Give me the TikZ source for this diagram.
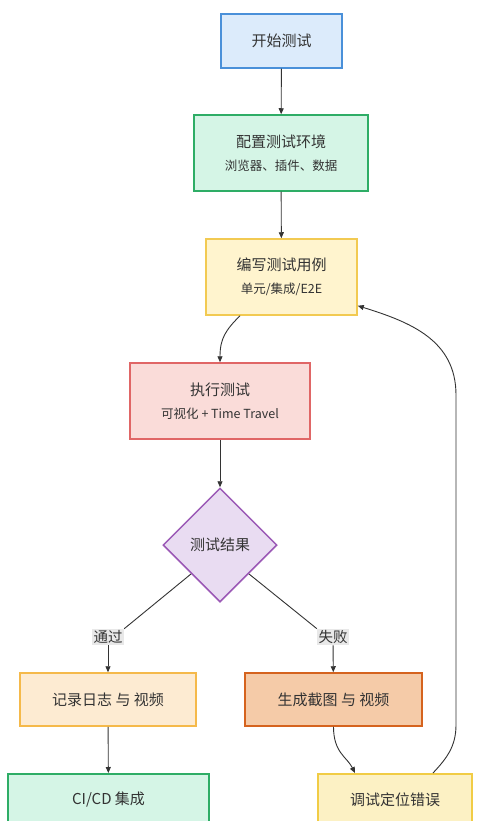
\documentclass[tikz,border=0pt]{standalone}
\usepackage{fontspec}
\setmainfont{Noto Sans CJK SC}
\usetikzlibrary{shapes.geometric,arrows.meta}

\definecolor{txtgray}{HTML}{333333}
\definecolor{linegray}{HTML}{333333}
\definecolor{blueFill}{HTML}{DCEBFB}
\definecolor{blueLine}{HTML}{4A90D9}
\definecolor{greenFill}{HTML}{D5F5E6}
\definecolor{greenLine}{HTML}{2EAD66}
\definecolor{yellowFill}{HTML}{FFF4CE}
\definecolor{yellowLine}{HTML}{F2CA52}
\definecolor{redFill}{HTML}{FADCD9}
\definecolor{redLine}{HTML}{E06666}
\definecolor{purpleFill}{HTML}{E9DCF2}
\definecolor{purpleLine}{HTML}{9B59B6}
\definecolor{orangeFill}{HTML}{FDEBD2}
\definecolor{orangeLine}{HTML}{F5B94A}
\definecolor{rustFill}{HTML}{F5CBA8}
\definecolor{rustLine}{HTML}{D5631E}
\definecolor{goldFill}{HTML}{FCF1C4}
\definecolor{goldLine}{HTML}{F1CC45}
\definecolor{labelGray}{HTML}{E8E8E8}

\newcommand{\subtxt}[1]{{\fontsize{12.5}{16}\selectfont #1}}

\begin{document}
\begin{tikzpicture}[x=1pt,y=1pt,yscale=-1,xscale=1,
  box/.style={draw,line width=1.5pt,inner sep=0pt,align=center,text=txtgray,
    font=\fontsize{15}{23}\selectfont},
  arr/.style={-{Triangle[length=6pt,width=5pt]},line width=0.9pt,draw=linegray},
  edgelabel/.style={fill=labelGray,inner sep=1.5pt,text=txtgray,
    font=\fontsize{14.5}{16}\selectfont}]
\clip (0,0) rectangle (480,821);
\fill[white] (0,0) rectangle (480,821);

%Shape: Rectangle [start]
\node[box,fill=blueFill,draw=blueLine,minimum width=121pt,minimum height=54pt] (start) at (281.5,41) {开始测试};
%Shape: Rectangle [setup]
\node[box,fill=greenFill,draw=greenLine,minimum width=174pt,minimum height=76pt] (setup) at (281,153) {配置测试环境\\\subtxt{浏览器、插件、数据}};
%Shape: Rectangle [write]
\node[box,fill=yellowFill,draw=yellowLine,minimum width=151pt,minimum height=76pt] (write) at (281.5,277) {编写测试用例\\\subtxt{单元/集成/E2E}};
%Shape: Rectangle [run]
\node[box,fill=redFill,draw=redLine,minimum width=180pt,minimum height=76pt] (run) at (220,401) {执行测试\\\subtxt{可视化 + Time Travel}};
%Shape: Diamond [result]
\node[box,diamond,aspect=1,fill=purpleFill,draw=purpleLine,minimum width=114pt,minimum height=114pt] (result) at (220,545) {测试结果};
%Shape: Rectangle [logs]
\node[box,fill=orangeFill,draw=orangeLine,minimum width=176pt,minimum height=53pt] (logs) at (108,699.5) {记录日志 与 视频};
%Shape: Rectangle [shots]
\node[box,fill=rustFill,draw=rustLine,minimum width=177pt,minimum height=53pt] (shots) at (333.5,699.5) {生成截图 与 视频};
%Shape: Rectangle [cicd]
\node[box,fill=greenFill,draw=greenLine,minimum width=201pt,minimum height=76pt,anchor=north] (cicd) at (108.5,773) {};
\node[text=txtgray,font=\fontsize{15}{23}\selectfont] (cicdtxt) at (108.5,800) {CI/CD 集成};
%Shape: Rectangle [debug]
\node[box,fill=goldFill,draw=goldLine,minimum width=154pt,minimum height=76pt,anchor=north] (debug) at (395,773) {};
\node[text=txtgray,font=\fontsize{15}{23}\selectfont] (debugtxt) at (395,800) {调试定位错误};

% Text Node
\node[edgelabel] (pass) at (108,637) {通过};
% Text Node
\node[edgelabel] (fail) at (333,637) {失败};

%Straight Lines
\draw[arr] (start) -- (setup);
\draw[arr] (setup) -- (write);
%Curve Lines
\draw[arr] ([xshift=-41.5pt]write.south) .. controls +(-14,14) and +(0,-24) .. (run.north);
%Straight Lines
\draw[arr] (run) -- (result);
\draw[line width=0.9pt,draw=linegray] (result.south west) -- (pass.north east);
\draw[arr] (pass) -- (logs);
\draw[line width=0.9pt,draw=linegray] (result.south east) -- (fail.north west);
\draw[arr] (fail) -- (shots);
\draw[arr] (logs) -- (cicd);
%Curve Lines
\draw[arr] (shots.south) .. controls +(0,26) and +(-8,-16) .. ([xshift=-40pt]debug.north);
\draw[arr] ([xshift=38pt]debug.north) .. controls +(13,-14) and +(0,22) .. (456,725)
  -- (456,395) .. controls (456,340) and (410,322) .. ([yshift=-10pt]write.south east);

\end{tikzpicture}
\end{document}
